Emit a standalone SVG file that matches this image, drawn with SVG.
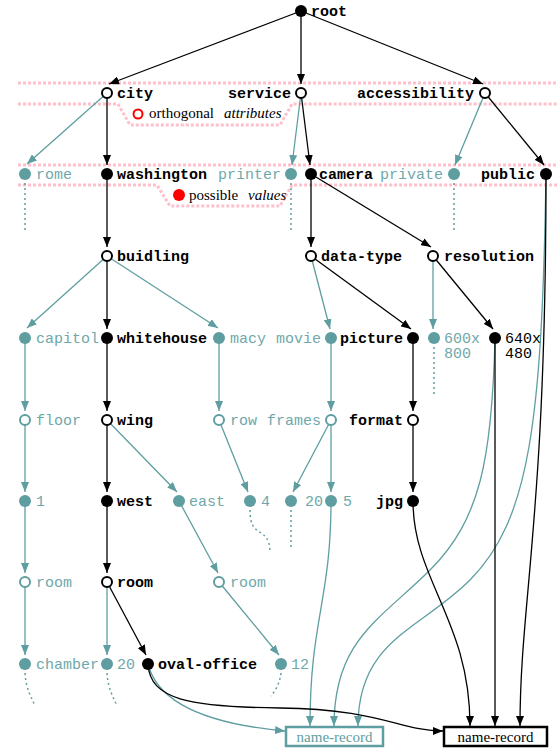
<svg xmlns="http://www.w3.org/2000/svg" width="557" height="748" viewBox="0 0 557 748">
<style>
.b{stroke:#000;stroke-width:1.3;fill:none}
.t{stroke:#5f9ea0;stroke-width:1.3;fill:none}
.d{stroke:#5f9ea0;stroke-width:1.5;stroke-dasharray:2,3;fill:none}
.band{stroke:#ffc0cb;stroke-width:3;stroke-dasharray:3,2;fill:none}
.lb{font-family:"Liberation Mono",monospace;font-weight:bold;font-size:15px;fill:#000}
.lt{font-family:"Liberation Mono",monospace;font-size:15px;fill:#6fa8aa}
.end{text-anchor:end}
.fb{fill:#000}
.ft{fill:#5f9ea0}
.ob{fill:#fff;stroke:#000;stroke-width:2}
.ot{fill:#fff;stroke:#5f9ea0;stroke-width:2}
.sf{font-family:"Liberation Serif",serif;font-size:15px;fill:#000}
.it{font-style:italic}
</style>
<defs>
<marker id="ab" markerUnits="userSpaceOnUse" markerWidth="10" markerHeight="8" refX="10" refY="4" orient="auto"><path d="M0,0 L10,4 L0,8 z" fill="#000"/></marker>
<marker id="at" markerUnits="userSpaceOnUse" markerWidth="10" markerHeight="8" refX="10" refY="4" orient="auto"><path d="M0,0 L10,4 L0,8 z" fill="#5f9ea0"/></marker>
</defs>
<rect width="557" height="748" fill="#fff"/>
<g id="bands">
<path class="band" d="M18,83 L557,83"/>
<path class="band" d="M18,104 L118,104 L130,125 L280,125 L292,104 L557,104"/>
<path class="band" d="M18,165 L557,165"/>
<path class="band" d="M18,185 L157,185 L170,206 L280,206 L292,185 L557,185"/>
</g>
<g id="legend">
<circle cx="138" cy="114" r="4.5" fill="#fff" stroke="#f00" stroke-width="2"/>
<text class="sf" x="149" y="118">orthogonal</text>
<text class="sf it" x="224" y="118">attributes</text>
<circle cx="179" cy="195" r="6" fill="#f00"/>
<text class="sf" x="189" y="200">possible</text>
<text class="sf it" x="248" y="200">values</text>
</g>
<g id="connectors">
<path class="b" marker-end="url(#ab)" d="M301,11 L109,84"/>
<path class="b" marker-end="url(#ab)" d="M301,11 L301,84"/>
<path class="b" marker-end="url(#ab)" d="M301,11 L483,84"/>
<path class="b" marker-end="url(#ab)" d="M107,93 L107,165"/>
<path class="b" marker-end="url(#ab)" d="M301,93 L310,165"/>
<path class="b" marker-end="url(#ab)" d="M485,93 L544,165"/>
<path class="b" marker-end="url(#ab)" d="M107,174 L107,247"/>
<path class="b" marker-end="url(#ab)" d="M311,174 L311,247"/>
<path class="b" marker-end="url(#ab)" d="M311,174 L431,247"/>
<path class="b" marker-end="url(#ab)" d="M107,256 L107,329"/>
<path class="b" marker-end="url(#ab)" d="M311,256 L411,329"/>
<path class="b" marker-end="url(#ab)" d="M433,256 L493,329"/>
<path class="b" marker-end="url(#ab)" d="M107,338 L107,411"/>
<path class="b" marker-end="url(#ab)" d="M413,338 L413,411"/>
<path class="b" marker-end="url(#ab)" d="M107,420 L107,492"/>
<path class="b" marker-end="url(#ab)" d="M413,420 L413,492"/>
<path class="b" marker-end="url(#ab)" d="M107,501 L107,573"/>
<path class="b" marker-end="url(#ab)" d="M107,582 L146,655"/>
<path class="t" marker-end="url(#at)" d="M107,93 L27,164"/>
<path class="t" marker-end="url(#at)" d="M301,93 L292,165"/>
<path class="t" marker-end="url(#at)" d="M485,93 L455,165"/>
<path class="t" marker-end="url(#at)" d="M107,256 L27,328"/>
<path class="t" marker-end="url(#at)" d="M107,256 L218,328"/>
<path class="t" marker-end="url(#at)" d="M311,256 L330,329"/>
<path class="t" marker-end="url(#at)" d="M433,256 L433,329"/>
<path class="t" marker-end="url(#at)" d="M25,338 L25,411"/>
<path class="t" marker-end="url(#at)" d="M219,338 L219,411"/>
<path class="t" marker-end="url(#at)" d="M331,338 L331,411"/>
<path class="t" marker-end="url(#at)" d="M25,420 L25,492"/>
<path class="t" marker-end="url(#at)" d="M107,420 L177,492"/>
<path class="t" marker-end="url(#at)" d="M219,420 L248,492"/>
<path class="t" marker-end="url(#at)" d="M331,420 L293,492"/>
<path class="t" marker-end="url(#at)" d="M331,420 L331,492"/>
<path class="t" marker-end="url(#at)" d="M25,501 L25,573"/>
<path class="t" marker-end="url(#at)" d="M179,501 L218,573"/>
<path class="t" marker-end="url(#at)" d="M25,582 L25,655"/>
<path class="t" marker-end="url(#at)" d="M107,582 L107,655"/>
<path class="t" marker-end="url(#at)" d="M219,582 L279,655"/>
<path class="d" d="M25,183 L25,233"/>
<path class="d" d="M291,183 L291,233"/>
<path class="d" d="M454,183 L454,233"/>
<path class="d" d="M434,347 L434,397"/>
<path class="d" d="M250,510 C250,540 268,525 270,550"/>
<path class="d" d="M291,510 L291,550"/>
<path class="d" d="M25,673 C26,690 32,698 35,706"/>
<path class="d" d="M107,673 C108,690 114,698 117,706"/>
<path class="d" d="M281,673 C280,682 276,690 271,696"/>
<path class="t" marker-end="url(#at)" d="M331,501 C331,600 310,620 310,726"/>
<path class="t" marker-end="url(#at)" d="M495,338 C492,460 480,520 430,570 C380,620 334,640 334,726"/>
<path class="t" marker-end="url(#at)" d="M546,174 C542,420 530,520 470,580 C420,630 358,640 358,726"/>
<path class="t" marker-end="url(#at)" d="M148,664 C160,712 230,726 285,731"/>
<path class="b" marker-end="url(#ab)" d="M148,664 C150,700 190,707 280,708 C380,709 400,731 443,731"/>
<path class="b" marker-end="url(#ab)" d="M413,501 C413,580 470,620 470,726"/>
<path class="b" marker-end="url(#ab)" d="M495,338 L495,726"/>
<path class="b" marker-end="url(#ab)" d="M546,174 C546,520 520,600 520,726"/>
</g>
<g id="root"><circle class="fb" cx="301" cy="11" r="6"/><text class="lb" x="311" y="15.5">root</text></g>
<g id="city"><circle class="ob" cx="107" cy="93" r="5"/><text class="lb" x="117" y="97.5">city</text></g>
<g id="service"><circle class="ob" cx="301" cy="93" r="5"/><text class="lb end" x="291" y="97.5">service</text></g>
<g id="accessibility"><circle class="ob" cx="485" cy="93" r="5"/><text class="lb end" x="474" y="97.5">accessibility</text></g>
<g id="rome"><circle class="ft" cx="25" cy="174" r="6"/><text class="lt" x="36" y="178.5">rome</text></g>
<g id="washington"><circle class="fb" cx="107" cy="174" r="6"/><text class="lb" x="117" y="178.5">washington</text></g>
<g id="printer"><circle class="ft" cx="291" cy="174" r="6"/><text class="lt end" x="281" y="178.5">printer</text></g>
<g id="camera"><circle class="fb" cx="311" cy="174" r="6"/><text class="lb" x="319" y="178.5">camera</text></g>
<g id="private"><circle class="ft" cx="454" cy="174" r="6"/><text class="lt end" x="443" y="178.5">private</text></g>
<g id="public"><circle class="fb" cx="546" cy="174" r="6"/><text class="lb end" x="535" y="178.5">public</text></g>
<g id="buidling"><circle class="ob" cx="107" cy="256" r="5"/><text class="lb" x="117" y="260.5">buidling</text></g>
<g id="data-type"><circle class="ob" cx="311" cy="256" r="5"/><text class="lb" x="321" y="260.5">data-type</text></g>
<g id="resolution"><circle class="ob" cx="433" cy="256" r="5"/><text class="lb" x="444" y="260.5">resolution</text></g>
<g id="capitol"><circle class="ft" cx="25" cy="338" r="6"/><text class="lt" x="36" y="342.5">capitol</text></g>
<g id="whitehouse"><circle class="fb" cx="107" cy="338" r="6"/><text class="lb" x="117" y="342.5">whitehouse</text></g>
<g id="macy"><circle class="ft" cx="219" cy="338" r="6"/><text class="lt" x="230" y="342.5">macy</text></g>
<g id="movie"><circle class="ft" cx="331" cy="338" r="6"/><text class="lt end" x="321" y="342.5">movie</text></g>
<g id="picture"><circle class="fb" cx="413" cy="338" r="6"/><text class="lb end" x="403" y="342.5">picture</text></g>
<g id="r600x800"><circle class="ft" cx="434" cy="338" r="6"/><text class="lt" x="444" y="342.5">600x</text><text class="lt" x="444" y="358">800</text></g>
<g id="r640x480"><circle class="fb" cx="495" cy="338" r="6"/><text class="lt" style="fill:#000" x="505" y="342.5">640x</text><text class="lt" style="fill:#000" x="505" y="358">480</text></g>
<g id="floor"><circle class="ot" cx="25" cy="420" r="5"/><text class="lt" x="36" y="424.5">floor</text></g>
<g id="wing"><circle class="ob" cx="107" cy="420" r="5"/><text class="lb" x="117" y="424.5">wing</text></g>
<g id="row"><circle class="ot" cx="219" cy="420" r="5"/><text class="lt" x="230" y="424.5">row</text></g>
<g id="frames"><circle class="ot" cx="331" cy="420" r="5"/><text class="lt end" x="321" y="424.5">frames</text></g>
<g id="format"><circle class="ob" cx="413" cy="420" r="5"/><text class="lb end" x="403" y="424.5">format</text></g>
<g id="n1"><circle class="ft" cx="25" cy="501" r="6"/><text class="lt" x="36" y="505.5">1</text></g>
<g id="west"><circle class="fb" cx="107" cy="501" r="6"/><text class="lb" x="117" y="505.5">west</text></g>
<g id="east"><circle class="ft" cx="179" cy="501" r="6"/><text class="lt" x="189" y="505.5">east</text></g>
<g id="n4"><circle class="ft" cx="250" cy="501" r="6"/><text class="lt" x="261" y="505.5">4</text></g>
<g id="n20a"><circle class="ft" cx="291" cy="501" r="6"/><text class="lt" x="305" y="505.5">20</text></g>
<g id="n5"><circle class="ft" cx="331" cy="501" r="6"/><text class="lt" x="343" y="505.5">5</text></g>
<g id="jpg"><circle class="fb" cx="413" cy="501" r="6"/><text class="lb end" x="403" y="505.5">jpg</text></g>
<g id="room1"><circle class="ot" cx="25" cy="582" r="5"/><text class="lt" x="36" y="586.5">room</text></g>
<g id="room2"><circle class="ob" cx="107" cy="582" r="5"/><text class="lb" x="117" y="586.5">room</text></g>
<g id="room3"><circle class="ot" cx="219" cy="582" r="5"/><text class="lt" x="230" y="586.5">room</text></g>
<g id="chamber"><circle class="ft" cx="25" cy="664" r="6"/><text class="lt" x="36" y="668.5">chamber</text></g>
<g id="n20b"><circle class="ft" cx="107" cy="664" r="6"/><text class="lt" x="117" y="668.5">20</text></g>
<g id="oval-office"><circle class="fb" cx="148" cy="664" r="6"/><text class="lb" x="158" y="668.5">oval-office</text></g>
<g id="n12"><circle class="ft" cx="281" cy="664" r="6"/><text class="lt" x="291" y="668.5">12</text></g>
<g id="name-record-teal"><rect x="286" y="727" width="97" height="19" fill="#fff" stroke="#5f9ea0" stroke-width="2.5"/><text class="sf" style="fill:#5f9ea0" x="334.5" y="742" text-anchor="middle">name-record</text></g>
<g id="name-record-black"><rect x="444" y="727" width="103" height="19" fill="#fff" stroke="#000" stroke-width="2.5"/><text class="sf" x="495.5" y="742" text-anchor="middle">name-record</text></g>
</svg>
